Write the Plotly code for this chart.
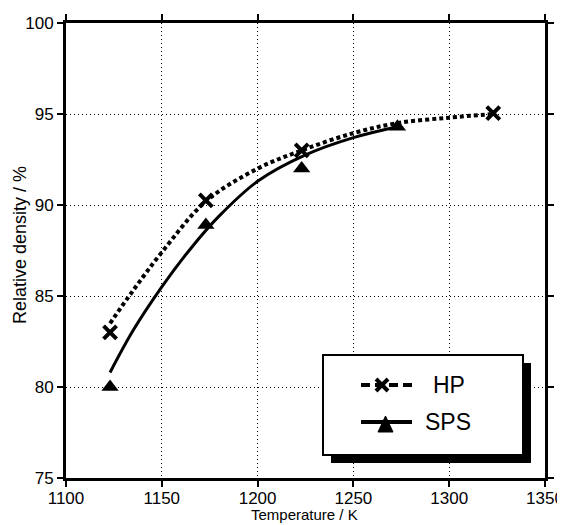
import plotly.graph_objects as go

# Measured points
hp_T = [1123, 1173, 1223, 1323]
hp_rho = [83.0, 90.25, 93.0, 95.05]
sps_T = [1123, 1173, 1223, 1273]
sps_rho = [80.0, 88.9, 92.0, 94.3]

# Fitted curves
hp_fit_T = [1123, 1135, 1150, 1173, 1200, 1223, 1250, 1273, 1300, 1323]
hp_fit_rho = [83.5, 85.3, 87.4, 90.2, 92.0, 93.0, 93.95, 94.5, 94.8, 95.0]
sps_fit_T = [1123, 1135, 1150, 1165, 1180, 1200, 1225, 1250, 1273]
sps_fit_rho = [80.8, 83.1, 85.5, 87.6, 89.4, 91.3, 92.75, 93.7, 94.3]

x_ticks = [1100, 1150, 1200, 1250, 1300, 1350]
y_ticks = [75, 80, 85, 90, 95, 100]
legend_names = ["HP", "SPS"]
x_title = "Temperature / K"
y_title = "Relative density / %"

FONT = "Liberation Sans, Arial, sans-serif"
OFF = 8  # page body margin
W, H = 557, 517
L, R, T, B = 58, 20, 15, 47
PW, PH = W - L - R, H - T - B


def px(x):
    return (x - OFF - L) / PW


def py(y):
    return (H - B - (y - OFF)) / PH


fig = go.Figure()
fig.add_trace(go.Scatter(x=hp_fit_T, y=hp_fit_rho, mode="lines", line_shape="spline",
                         line=dict(color="black", width=4, dash="4px,3px"), showlegend=False))
fig.add_trace(go.Scatter(x=sps_fit_T, y=sps_fit_rho, mode="lines", line_shape="spline",
                         line=dict(color="black", width=3), showlegend=False))
fig.add_trace(go.Scatter(x=hp_T, y=hp_rho, mode="markers", name="HP",
                         marker=dict(symbol="x-thin", size=13, line=dict(color="black", width=4)),
                         showlegend=False))
fig.add_trace(go.Scatter(x=sps_T, y=sps_rho, mode="markers", name="SPS",
                         marker=dict(symbol="triangle-up", size=15, color="black"),
                         showlegend=False))

axis_common = dict(showline=True, linecolor="black", linewidth=3, mirror="ticks",
                   ticks="outside", ticklen=6, tickwidth=2, tickcolor="black",
                   showgrid=True, gridcolor="black", gridwidth=1, griddash="1px,3px",
                   zeroline=False, automargin=False,
                   tickfont=dict(family=FONT, size=17, color="black"))

fig.update_xaxes(range=[1100, 1350], tickvals=x_ticks, ticklabelstandoff=-3, **axis_common)
fig.update_yaxes(range=[75, 100], tickvals=y_ticks, **axis_common)

# Hand-drawn legend box with drop shadow
shapes = []
shapes.append(dict(type="rect", xref="paper", yref="paper", x0=px(331), x1=px(531), y0=py(463), y1=py(363),
                   fillcolor="black", line=dict(width=0), layer="above"))
shapes.append(dict(type="rect", xref="paper", yref="paper", x0=px(323), x1=px(523), y0=py(455), y1=py(355),
                   fillcolor="white", line=dict(color="black", width=2), layer="above"))
# HP sample: dashed line + x
shapes.append(dict(type="line", xref="paper", yref="paper", x0=px(361), x1=px(412), y0=py(385), y1=py(385),
                   line=dict(color="black", width=4, dash="9px,5px"), layer="above"))
for (a, b, c, d) in [(376, 379, 388, 391), (376, 391, 388, 379)]:
    shapes.append(dict(type="line", xref="paper", yref="paper", x0=px(a), y0=py(b), x1=px(c), y1=py(d),
                       line=dict(color="black", width=4), layer="above"))
# SPS sample: solid line + triangle
shapes.append(dict(type="line", xref="paper", yref="paper", x0=px(361), x1=px(412), y0=py(422), y1=py(422),
                   line=dict(color="black", width=4), layer="above"))
shapes.append(dict(type="path", xref="paper", yref="paper",
                   path=f"M {px(378)},{py(432)} L {px(385.5)},{py(416)} L {px(393)},{py(432)} Z",
                   fillcolor="black", line=dict(color="black", width=1), layer="above"))

annotations = [
    dict(xref="paper", yref="paper", x=px(431), y=py(385), text=legend_names[0], showarrow=False,
         xanchor="left", yanchor="middle", font=dict(family=FONT, size=23, color="black")),
    dict(xref="paper", yref="paper", x=px(423), y=py(422), text=legend_names[1], showarrow=False,
         xanchor="left", yanchor="middle", font=dict(family=FONT, size=23, color="black")),
    dict(xref="paper", yref="paper", x=px(304), y=py(525), text=x_title, showarrow=False,
         xanchor="center", yanchor="bottom", font=dict(family=FONT, size=15, color="black")),
    dict(xref="paper", yref="paper", x=px(20), y=py(245), text=y_title, showarrow=False, textangle=-90,
         xanchor="center", yanchor="middle", font=dict(family=FONT, size=18, color="black")),
]

fig.update_layout(
    width=W, height=H,
    margin=dict(l=L, r=R, t=T, b=B),
    plot_bgcolor="white", paper_bgcolor="white",
    font=dict(family=FONT, color="black"),
    showlegend=False,
    shapes=shapes, annotations=annotations,
)

fig.write_html("out.html")
